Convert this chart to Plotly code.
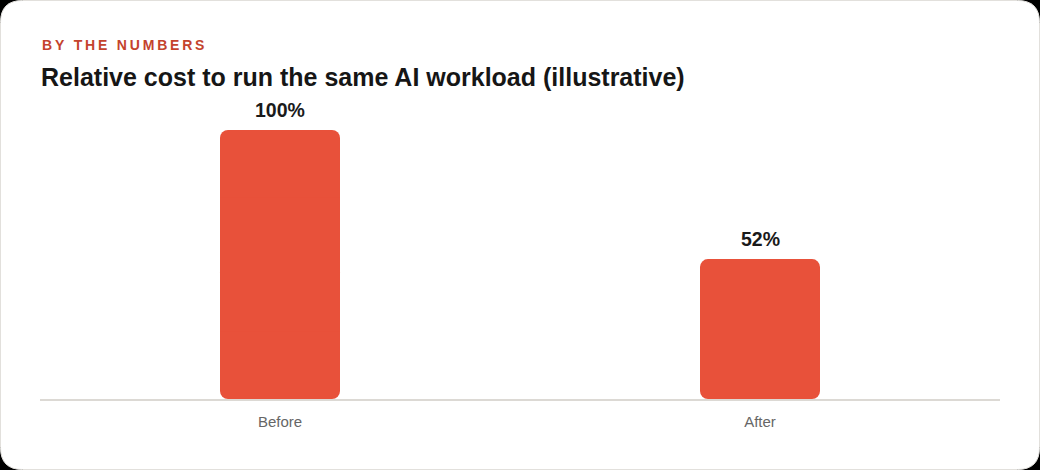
import plotly.graph_objects as go

categories = ["Before", "After"]
values = [100, 52]
value_labels = ["100%", "52%"]
kicker = "BY THE NUMBERS"
title = "Relative cost to run the same AI workload (illustrative)"

W, H = 1040, 470
ML, MR, MT, MB = 40, 40, 100, 71
BAR_COLOR = "#E8513A"
FONT = "Liberation Sans, Arial, sans-serif"

plot_w = W - ML - MR
plot_h = H - MT - MB
ymax = 100 * plot_h / 269.0

half = [v / 2 for v in values]
quarter = [v / 4 for v in values]
fig = go.Figure()
bar_common = dict(width=0.25, hoverinfo="skip", showlegend=False)
# upper half (rounded top)
fig.add_trace(go.Bar(x=categories, y=half, base=half,
                     marker=dict(color=BAR_COLOR, cornerradius=8, line=dict(width=0)), **bar_common))
# lower half (rounded bottom)
fig.add_trace(go.Bar(x=categories, y=[-h for h in half], base=half,
                     marker=dict(color=BAR_COLOR, cornerradius=8, line=dict(width=0)), **bar_common))
# middle filler (square) to hide the seam
fig.add_trace(go.Bar(x=categories, y=half, base=quarter,
                     marker=dict(color=BAR_COLOR, line=dict(width=0)), **bar_common))

for c, v, lab in zip(categories, values, value_labels):
    fig.add_annotation(x=c, y=v, text=f"<b>{lab}</b>", showarrow=False, yanchor="bottom", yshift=7,
                       font=dict(family=FONT, size=19.5, color="#1a1a1a"))

def px(x):
    return (x - ML) / plot_w

def py(y):
    return (H - MB - y) / plot_h

# card background with rounded corners
r = 22
x0, x1, y0, y1 = 0.5, W - 0.5, 0.5, H - 0.5
path = (f"M {px(x0 + r)},{py(y0)} L {px(x1 - r)},{py(y0)} "
        f"Q {px(x1)},{py(y0)} {px(x1)},{py(y0 + r)} "
        f"L {px(x1)},{py(y1 - r)} Q {px(x1)},{py(y1)} {px(x1 - r)},{py(y1)} "
        f"L {px(x0 + r)},{py(y1)} Q {px(x0)},{py(y1)} {px(x0)},{py(y1 - r)} "
        f"L {px(x0)},{py(y0 + r)} Q {px(x0)},{py(y0)} {px(x0 + r)},{py(y0)} Z")
fig.add_shape(type="path", path=path, xref="paper", yref="paper", layer="below",
              fillcolor="white", line=dict(color="#e2e0dc", width=1))

ks = "\u2009".join(kicker)
fig.add_annotation(xref="paper", yref="paper", x=px(40), y=py(45), xanchor="left", yanchor="middle",
                   text=f"<b>{ks}</b>", showarrow=False,
                   font=dict(family=FONT, size=14, color="#C4432D"))
fig.add_annotation(xref="paper", yref="paper", x=px(39), y=py(77), xanchor="left", yanchor="middle",
                   text=f"<b>{title}</b>", showarrow=False,
                   font=dict(family=FONT, size=25, color="#161616"))

fig.update_layout(
    width=W, height=H,
    margin=dict(l=ML, r=MR, t=MT, b=MB),
    paper_bgcolor="#000000", plot_bgcolor="rgba(0,0,0,0)",
    barmode="overlay",
    font=dict(family=FONT),
    xaxis=dict(showgrid=False, showline=True, linecolor="#dcd9d4", linewidth=1.5, ticks="",
               tickfont=dict(family=FONT, size=15, color="#666666"), ticklabelstandoff=8, zeroline=False),
    yaxis=dict(range=[0, ymax], visible=False, showgrid=False, zeroline=False),
)

fig.write_html("out.html")
